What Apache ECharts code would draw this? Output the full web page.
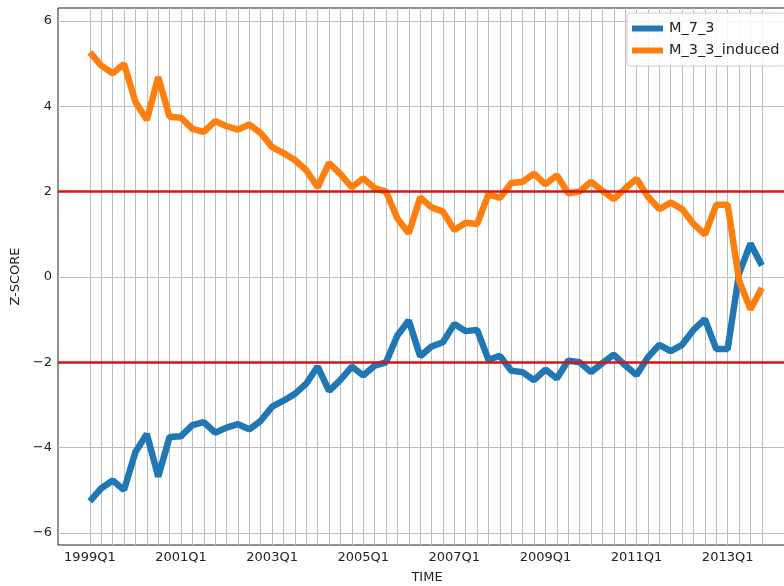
<!DOCTYPE html>
<html>
<head>
<meta charset="utf-8">
<script src="https://cdn.jsdelivr.net/npm/echarts@6/dist/echarts.min.js"></script>
<style>
  html, body { margin: 0; padding: 0; background: #fff; }
  #chart { width: 784px; height: 586px; }
</style>
</head>
<body>
<div id="chart"></div>
<script>
// quarters 1999Q1 .. 2013Q4
const years = [1999, 2000, 2001, 2002, 2003, 2004, 2005, 2006, 2007, 2008, 2009, 2010, 2011, 2012, 2013]
const quarters = []
years.forEach(y => { for (let q = 1; q <= 4; q++) quarters.push(y + 'Q' + q) })

const tickLabels = ['1999Q1', '2001Q1', '2003Q1', '2005Q1', '2007Q1', '2009Q1', '2011Q1', '2013Q1']
const yTicks = [-6, -4, -2, 0, 2, 4, 6]
const thresholds = [2, -2]

const m73 = [
  -5.26, -4.95, -4.77, -4.99, -4.10, -3.68, -4.68, -3.75, -3.73, -3.47,
  -3.40, -3.65, -3.53, -3.45, -3.57, -3.37, -3.04, -2.90, -2.74, -2.50,
  -2.10, -2.67, -2.41, -2.10, -2.31, -2.08, -2.00, -1.37, -1.02, -1.86,
  -1.63, -1.53, -1.10, -1.27, -1.24, -1.94, -1.85, -2.20, -2.23, -2.42,
  -2.17, -2.38, -1.96, -2.00, -2.23, -2.02, -1.82, -2.07, -2.30, -1.88,
  -1.59, -1.74, -1.59, -1.24, -0.99, -1.69, -1.69, 0.08, 0.78, 0.27
]
const m33induced = [
  5.26, 4.95, 4.77, 4.99, 4.10, 3.68, 4.68, 3.75, 3.73, 3.47,
  3.40, 3.65, 3.53, 3.45, 3.57, 3.37, 3.04, 2.90, 2.74, 2.50,
  2.10, 2.67, 2.41, 2.10, 2.31, 2.08, 2.00, 1.37, 1.02, 1.86,
  1.63, 1.53, 1.10, 1.27, 1.24, 1.94, 1.85, 2.20, 2.23, 2.42,
  2.17, 2.38, 1.96, 2.00, 2.23, 2.02, 1.82, 2.07, 2.30, 1.88,
  1.59, 1.74, 1.59, 1.24, 0.99, 1.69, 1.69, -0.08, -0.76, -0.26
]

const font = 'DejaVu Sans'
const fmtNum = v => (v < 0 ? '\u2212' + (-v) : String(v))

const chart = echarts.init(document.getElementById('chart'))
chart.setOption({
  animation: false,
  textStyle: { fontFamily: font },
  grid: {
    left: 58, top: 8, right: -12, bottom: 41,
    outerBoundsMode: 'none',
    show: true, borderColor: '#222', borderWidth: 1, backgroundColor: '#fff'
  },
  legend: {
    data: ['M_7_3', 'M_3_3_induced'],
    orient: 'vertical',
    left: 627, top: 13,
    padding: [8, 6, 8, 5],
    itemGap: 7,
    itemWidth: 31, itemHeight: 6,
    icon: 'rect',
    backgroundColor: 'rgba(255,255,255,0.85)',
    borderColor: '#d0d0d0', borderWidth: 1, borderRadius: 3,
    textStyle: { fontFamily: font, fontSize: 14.5, color: '#222', padding: [0, 0, 0, 1] }
  },
  xAxis: {
    type: 'value',
    min: -2.8, max: 62,
    name: 'TIME', nameLocation: 'middle', nameGap: 26,
    nameTextStyle: { fontFamily: font, fontSize: 13, color: '#222' },
    axisLine: { show: false },
    axisTick: { show: false, customValues: quarters.map((q, i) => i) },
    axisLabel: {
      customValues: tickLabels.map(t => quarters.indexOf(t)),
      formatter: v => quarters[Math.round(v)],
      fontFamily: font, fontSize: 13, color: '#222', margin: 6
    },
    splitLine: { show: true, lineStyle: { color: '#bdbdbd', width: 1 } }
  },
  yAxis: {
    type: 'value',
    min: -6.28, max: 6.3,
    name: 'Z-SCORE', nameLocation: 'middle', nameGap: 34,
    nameTextStyle: { fontFamily: font, fontSize: 13, color: '#222' },
    axisLine: { show: false },
    axisTick: { show: false, customValues: yTicks },
    axisLabel: {
      customValues: yTicks,
      formatter: fmtNum,
      fontFamily: font, fontSize: 13, color: '#222', margin: 6
    },
    splitLine: { show: true, lineStyle: { color: '#bdbdbd', width: 1 } }
  },
  series: [
    {
      name: 'thresholds',
      type: 'line',
      data: [],
      z: 1,
      markLine: {
        silent: true,
        symbol: 'none',
        label: { show: false },
        lineStyle: { color: '#d41515', width: 2.5, type: 'solid' },
        data: thresholds.map(v => ({ yAxis: v }))
      }
    },
    {
      name: 'M_7_3',
      type: 'line',
      color: '#1f77b4',
      showSymbol: false,
      z: 3,
      lineStyle: { width: 6.5 },
      data: m73.map((v, i) => [i, v])
    },
    {
      name: 'M_3_3_induced',
      type: 'line',
      color: '#ff7f0e',
      showSymbol: false,
      z: 4,
      lineStyle: { width: 6.5 },
      data: m33induced.map((v, i) => [i, v])
    }
  ]
})
</script>
</body>
</html>
